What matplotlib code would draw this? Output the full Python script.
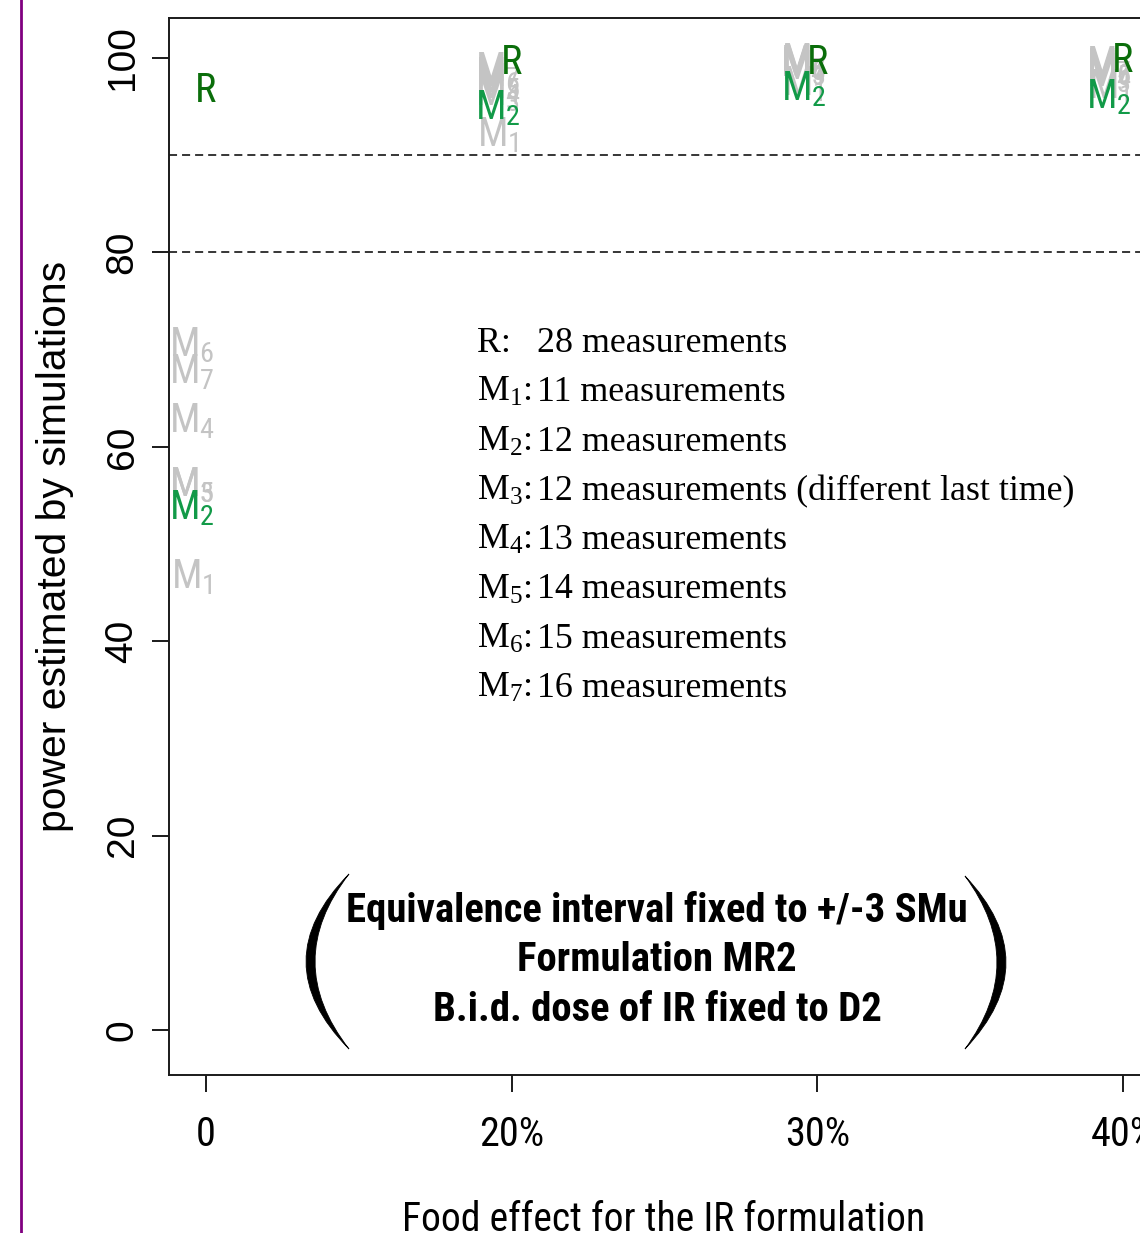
import matplotlib
matplotlib.use("Agg")
import matplotlib.pyplot as plt
from matplotlib import font_manager
from matplotlib.path import Path
from matplotlib.patches import PathPatch
from matplotlib.lines import Line2D
import matplotlib.transforms as mtransforms

# ---------------- data ----------------
positions = [1, 2, 3, 4]
xtick_labels = ["0", "20%", "30%", "40%"]
yticks = [0, 20, 40, 60, 80, 100]
ref_lines = [80, 90]

R_power = [96.7, 99.5, 99.5, 99.7]
M1_power = [46.6, 92.1, 97.3, 97.0]
M2_power = [53.7, 94.8, 96.8, 96.0]
M3_power = [56.1, 96.3, 99.0, 98.2]
M4_power = [62.6, 97.0, 99.3, 98.6]
M5_power = [56.1, 97.6, 99.5, 99.0]
M6_power = [70.5, 98.2, 99.6, 99.2]
M7_power = [67.7, 98.8, 99.7, 99.4]

legend_keys = ["R:", r"$\mathregular{M_1}$:", r"$\mathregular{M_2}$:", r"$\mathregular{M_3}$:",
               r"$\mathregular{M_4}$:", r"$\mathregular{M_5}$:", r"$\mathregular{M_6}$:",
               r"$\mathregular{M_7}$:"]
legend_desc = ["28 measurements", "11 measurements", "12 measurements",
               "12 measurements (different last time)", "13 measurements",
               "14 measurements", "15 measurements", "16 measurements"]
box_lines = ["Equivalence interval fixed to +/-3 SMu", "Formulation MR2",
             "B.i.d. dose of IR fixed to D2"]

# ---------------- fonts ----------------
names = {f.name for f in font_manager.fontManager.ttflist}
if "Liberation Sans Narrow" in names:
    narrow = "Liberation Sans Narrow"
elif "Roboto Condensed" in names:
    narrow = "Roboto Condensed"
else:
    narrow = "Roboto"
sans = "Liberation Sans"
serif = "Liberation Serif"

plt.rcParams["lines.scale_dashes"] = False
plt.rcParams["mathtext.default"] = "regular"

W, H = 1140, 1233
fig = plt.figure(figsize=(W / 100, H / 100), dpi=100)
fig.patch.set_facecolor("white")

ax = fig.add_axes([169 / W, 1 - 1075 / H, (1160 - 169) / W, (1075 - 18) / H])
ax.set_xlim(0.879, 4.121)
ax.set_ylim(-4.63, 104.12)
for s in ax.spines.values():
    s.set_linewidth(1.4)
    s.set_color("#1a1a1a")

ax.set_xticks(positions)
ax.set_xticklabels(xtick_labels, fontfamily=narrow, fontsize=29)
ax.set_yticks(yticks)
ax.set_yticklabels([str(v) for v in yticks], fontfamily=sans, fontsize=28,
                   rotation=90, va="center")
ax.tick_params(axis="x", length=12.5, width=1.4, pad=16, color="#1a1a1a")
ax.tick_params(axis="y", length=12.5, width=1.4, pad=8, color="#1a1a1a")

for y in ref_lines:
    ax.axhline(y, color="black", lw=1.1, dashes=(5.8, 3.6))

grey = "#c4c4c4"
m2_green = "#129a48"
r_green = "#0b6e0b"
m_off = -0.046
label_fs = 29

grey_series = [("1", M1_power), ("3", M3_power), ("4", M4_power),
               ("5", M5_power), ("6", M6_power), ("7", M7_power)]
for sub, vals in grey_series:
    for x, v in zip(positions, vals):
        ax.text(x + m_off, v, r"$\mathregular{M_%s}$" % sub, color=grey,
                fontfamily=narrow, fontsize=label_fs, ha="center", va="center")
for x, v in zip(positions, M2_power):
    ax.text(x + m_off, v, r"$\mathregular{M_2}$", color=m2_green,
            fontfamily=narrow, fontsize=label_fs, ha="center", va="center")
for x, v in zip(positions, R_power):
    ax.text(x, v, "R", color=r_green, fontfamily=narrow, fontsize=label_fs,
            ha="center", va="center")

# pixel (top-left origin) -> figure transform
pix = mtransforms.Affine2D().scale(1 / W, -1 / H).translate(0, 1) + fig.transFigure

# legend text block
for i, (k, d) in enumerate(zip(legend_keys, legend_desc)):
    yb = 352 + i * 49.3
    fig.text(477, yb, k, transform=pix, fontfamily=serif, fontsize=25.8,
             ha="left", va="baseline")
    fig.text(537, yb, d, transform=pix, fontfamily=serif, fontsize=25.8,
             ha="left", va="baseline")

# boxed annotation
for i, line in enumerate(box_lines):
    fig.text(657, 910 + i * 50, line, transform=pix, fontfamily=narrow,
             fontweight="bold", fontsize=29.3, ha="center", va="center")


def crescent(x_tip, y_top, y_bot, x_outer, x_inner):
    ym = (y_top + y_bot) / 2
    verts = [(x_tip, y_top), (2 * x_outer - x_tip, ym), (x_tip, y_bot),
             (2 * x_inner - x_tip, ym), (x_tip, y_top), (x_tip, y_top)]
    codes = [Path.MOVETO, Path.CURVE3, Path.CURVE3, Path.CURVE3, Path.CURVE3,
             Path.CLOSEPOLY]
    return PathPatch(Path(verts, codes), transform=pix, facecolor="black",
                     edgecolor="black", lw=0.6)


fig.add_artist(crescent(349, 874, 1049, 306, 315))
fig.add_artist(crescent(965, 876, 1049, 1006, 997))

# axis titles
fig.text(55, 546, "power estimated by simulations", transform=pix, rotation=90,
         fontfamily=sans, fontsize=29.4, ha="center", va="center")
fig.text(664, 1231, "Food effect for the IR formulation", transform=pix,
         fontfamily=narrow, fontsize=28.5, ha="center", va="baseline")

# purple frame line on the left
fig.add_artist(Line2D([20.7 / W, 20.7 / W], [0, 1], transform=fig.transFigure,
                      color="#800080", lw=2))

fig.savefig("out.png", dpi=100)
